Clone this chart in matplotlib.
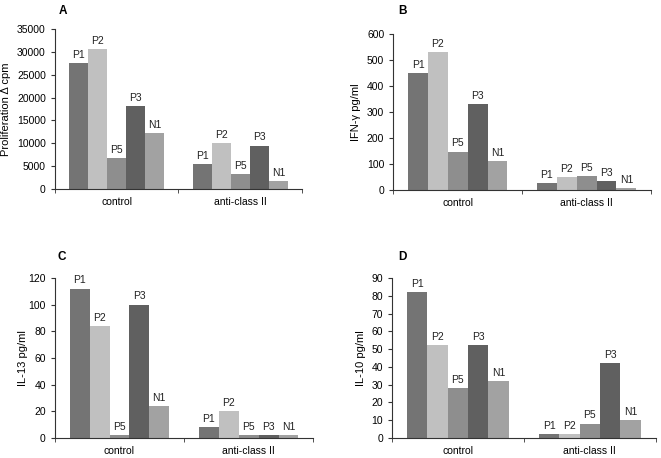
import numpy as np
import matplotlib
matplotlib.use('Agg')
from matplotlib import pyplot

pyplot.rcParams['font.family'] = ['Liberation Sans', 'DejaVu Sans']

groups = ['control', 'anti-class II']
patients = ['P1', 'P2', 'P5', 'P3', 'N1']
colors = ['#747474', '#c0c0c0', '#8e8e8e', '#606060', '#a2a2a2']

prolif_control = [27500, 30500, 6800, 18200, 12200]
prolif_anti = [5400, 10000, 3300, 9500, 1700]
ifng_control = [450, 530, 148, 330, 110]
ifng_anti = [28, 50, 55, 35, 8]
il13_control = [112, 84, 2, 100, 24]
il13_anti = [8, 20, 2, 2, 2]
il10_control = [82, 52, 28, 52, 32]
il10_anti = [2, 2, 8, 42, 10]

# letter, ylabel, data, ymax, ystep, axes rect, letter position, ylabel pad
panels = [
	('A', 'Proliferation \u0394 cpm', prolif_control, prolif_anti, 35000, 5000, [0.083, 0.587, 0.374, 0.350], (0.089, 0.99), 4),
	('B', 'IFN-\u03b3 pg/ml', ifng_control, ifng_anti, 600, 100, [0.595, 0.585, 0.390, 0.341], (0.602, 0.99), 4),
	('C', 'IL-13 pg/ml', il13_control, il13_anti, 120, 20, [0.083, 0.044, 0.391, 0.349], (0.087, 0.452), 0),
	('D', 'IL-10 pg/ml', il10_control, il10_anti, 90, 10, [0.593, 0.044, 0.399, 0.349], (0.602, 0.452), 4),
]

fig = pyplot.figure(figsize = [6.61, 4.58], dpi = 100)
fs = 7.5
bar_w = 0.154

for letter, ylabel, ctrl, anti, ymax, ystep, rect, lpos, pad in panels:
	ax = fig.add_axes(rect)
	data = np.array([ctrl, anti])
	for i in range(len(patients)):
		xs = np.arange(len(groups)) + (i - 2) * bar_w
		ax.bar(xs, data[:, i], width = bar_w, color = colors[i], edgecolor = 'none')
		for x, v in zip(xs, data[:, i]):
			ax.text(x, v + ymax * 0.02, patients[i], ha = 'center', va = 'bottom', fontsize = fs, color = '#222222')
	ax.set_xlim(-0.5, 1.5)
	ax.set_ylim(0, ymax)
	ax.set_yticks(np.arange(0, ymax + 1, ystep))
	ax.set_xticks([0, 1])
	ax.set_xticklabels(groups)
	ax.set_xticks([-0.5, 0.5, 1.5], minor = True)
	ax.tick_params(axis = 'x', which = 'major', length = 0, pad = 6, labelsize = fs)
	ax.tick_params(axis = 'x', which = 'minor', length = 3, direction = 'out', color = '#333333')
	ax.tick_params(axis = 'y', length = 3, direction = 'out', labelsize = fs, color = '#333333')
	ax.spines['top'].set_visible(False)
	ax.spines['right'].set_visible(False)
	ax.spines['left'].set_color('#333333')
	ax.spines['bottom'].set_color('#333333')
	ax.set_ylabel(ylabel, fontsize = fs + 0.5, labelpad = pad)
	fig.text(lpos[0], lpos[1], letter, fontsize = 8.5, fontweight = 'bold', ha = 'left', va = 'top')

pyplot.savefig('out.png', dpi = 100)
